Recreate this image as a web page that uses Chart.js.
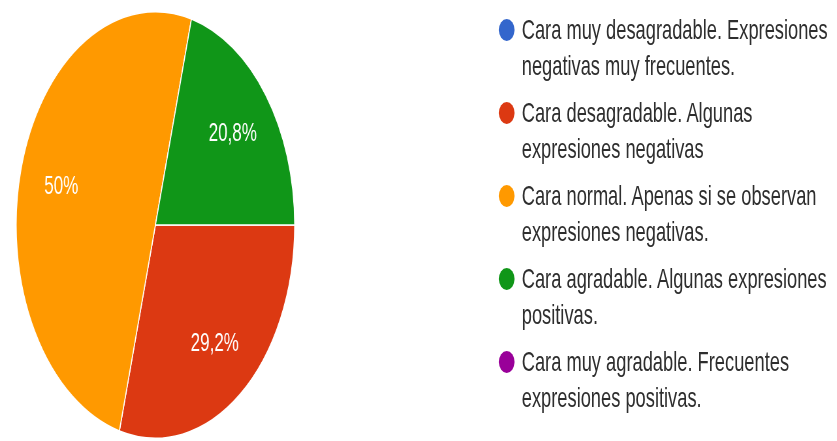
<!DOCTYPE html>
<html>
<head>
<meta charset="utf-8">
<script src="https://cdn.jsdelivr.net/npm/chart.js@4"></script>
<style>
  html, body { margin: 0; padding: 0; background: #fff; overflow: hidden; }
  /* the source picture is squeezed sideways, so the whole stage is too */
  #stage { position: absolute; left: 0; top: 0; width: 1282px; height: 441px; transform: scaleX(0.653); transform-origin: 0 0; }
  #pieBox { position: absolute; left: 24px; top: 11px; width: 428px; height: 428px; }
  #legend { position: absolute; left: 764px; top: 12px; font-family: "Liberation Sans", Arial, sans-serif; font-size: 28px; color: #2e2e2e; }
  .item { position: relative; padding-left: 35px; line-height: 36px; margin-bottom: 11px; white-space: nowrap; }
  .dot { position: absolute; left: 0; top: 7px; width: 24px; height: 22px; border-radius: 50%; }
</style>
</head>
<body>
<div id="stage">
  <div id="pieBox"><canvas id="pie"></canvas></div>
  <div id="legend"></div>
</div>
<script>
  const labels = [
    ['Cara muy desagradable. Expresiones', 'negativas muy frecuentes.'],
    ['Cara desagradable. Algunas', 'expresiones negativas'],
    ['Cara normal. Apenas si se observan', 'expresiones negativas.'],
    ['Cara agradable. Algunas expresiones', 'positivas.'],
    ['Cara muy agradable. Frecuentes', 'expresiones positivas.']
  ];
  const counts = [0, 7, 12, 5, 0];
  const colors = ['#3366cc', '#dc3912', '#ff9900', '#109618', '#990099'];

  const total = counts.reduce((a, b) => a + b, 0);

  function pctText(v) {
    return String(Math.round(v / total * 1000) / 10).replace('.', ',') + '%';
  }

  // percentage text inside each slice
  const sliceLabels = {
    id: 'sliceLabels',
    afterDatasetsDraw(chart) {
      const ctx = chart.ctx;
      const meta = chart.getDatasetMeta(0);
      ctx.save();
      ctx.font = '26px "Liberation Sans", Arial, sans-serif';
      ctx.fillStyle = '#ffffff';
      ctx.textAlign = 'center';
      ctx.textBaseline = 'middle';
      meta.data.forEach((arc, i) => {
        if (!counts[i]) return;
        const p = arc.getProps(['x', 'y', 'startAngle', 'endAngle', 'outerRadius'], true);
        const mid = (p.startAngle + p.endAngle) / 2;
        const r = p.outerRadius * 0.7;
        ctx.fillText(pctText(counts[i]), p.x + Math.cos(mid) * r, p.y + Math.sin(mid) * r);
      });
      ctx.restore();
    }
  };

  new Chart(document.getElementById('pie'), {
    type: 'pie',
    data: {
      labels: labels.map(l => l.join(' ')),
      datasets: [{
        data: counts,
        backgroundColor: colors,
        borderColor: '#ffffff',
        borderWidth: 1.5
      }]
    },
    options: {
      responsive: true,
      maintainAspectRatio: false,
      animation: false,
      rotation: 90,
      layout: { padding: 0 },
      plugins: {
        legend: { display: false },
        tooltip: { enabled: false }
      }
    },
    plugins: [sliceLabels]
  });

  const legendEl = document.getElementById('legend');
  labels.forEach((lines, i) => {
    const item = document.createElement('div');
    item.className = 'item';
    const dot = document.createElement('span');
    dot.className = 'dot';
    dot.style.background = colors[i];
    item.appendChild(dot);
    lines.forEach((line, j) => {
      if (j) item.appendChild(document.createElement('br'));
      item.appendChild(document.createTextNode(line));
    });
    legendEl.appendChild(item);
  });
</script>
</body>
</html>
